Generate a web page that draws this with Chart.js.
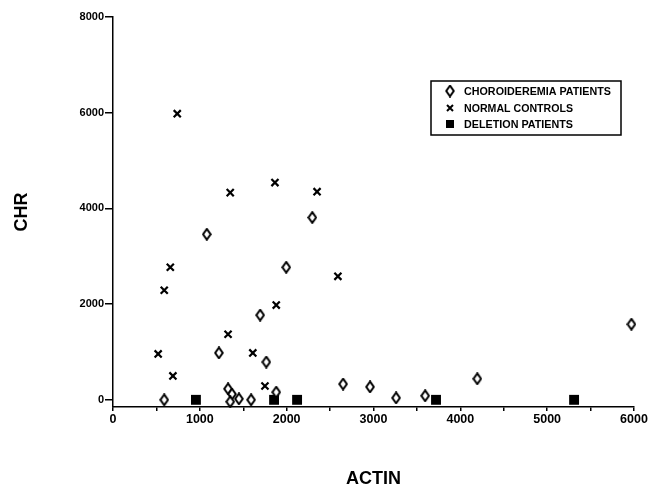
<!DOCTYPE html>
<html>
<head>
<meta charset="utf-8">
<script src="https://cdn.jsdelivr.net/npm/chart.js@4/dist/chart.umd.min.js"></script>
<style>
  html, body { margin: 0; padding: 0; background: #fff; }
  #chart { display: block; }
</style>
</head>
<body>
<canvas id="chart" width="649" height="488"></canvas>
<script>
// values (ACTIN on x, CHR on y)
const choroActin = [590, 1080, 1220, 1325, 1370, 1350, 1450, 1590, 1695, 1765, 1880, 1995, 2295, 2650, 2960, 3260, 3595, 4195, 5970];
const choroChr   = [0, 3460, 980, 230, 120, -40, 20, 0, 1770, 790, 160, 2770, 3810, 330, 270, 40, 85, 440, 1580];

const normalActin = [740, 520, 590, 660, 690, 1325, 1350, 1865, 2350, 1610, 1880, 1750, 2590];
const normalChr   = [5980, 960, 2290, 2770, 500, 1370, 4330, 4540, 4350, 980, 1980, 290, 2580];

const deletionActin = [955, 1855, 2120, 3720, 5310];
const deletionChr   = [0, 0, 0, 0, 0];

const xTicks = [0, 500, 1000, 1500, 2000, 2500, 3000, 3500, 4000, 4500, 5000, 5500, 6000];
const yTicks = [0, 2000, 4000, 6000, 8000];

const seriesNames = ['CHOROIDEREMIA PATIENTS', 'NORMAL CONTROLS', 'DELETION PATIENTS'];

const toPoints = (xs, ys) => xs.map((x, i) => ({ x: x, y: ys[i] }));

// tall hollow diamond used as the marker for the patients series
function makeDiamond() {
    const c = document.createElement('canvas');
    c.width = 10;
    c.height = 13;
    const g = c.getContext('2d');
    g.beginPath();
    g.moveTo(5, 1.2);
    g.lineTo(8.8, 6.5);
    g.lineTo(5, 11.8);
    g.lineTo(1.2, 6.5);
    g.closePath();
    g.fillStyle = '#fff';
    g.fill();
    g.lineWidth = 2;
    g.strokeStyle = '#000';
    g.stroke();
    return c;
}
const diamond = makeDiamond();

const boxLegend = {
    id: 'boxLegend',
    afterDraw(chart) {
        const ctx = chart.ctx;
        const left = 431, top = 81, w = 190, h = 54;
        ctx.save();
        ctx.lineWidth = 1.5;
        ctx.strokeStyle = '#000';
        ctx.strokeRect(left, top, w, h);
        ctx.fillStyle = '#000';
        ctx.font = 'bold 11px "Liberation Sans", Arial, sans-serif';
        ctx.textBaseline = 'middle';
        const rows = [91, 108, 124];
        const widths = [147, 109, 109];
        // markers
        ctx.drawImage(diamond, 450 - diamond.width / 2, rows[0] - diamond.height / 2);
        ctx.lineWidth = 2;
        ctx.beginPath();
        ctx.moveTo(447, rows[1] - 3); ctx.lineTo(453, rows[1] + 3);
        ctx.moveTo(453, rows[1] - 3); ctx.lineTo(447, rows[1] + 3);
        ctx.stroke();
        ctx.fillRect(446, rows[2] - 4, 8, 8);
        seriesNames.forEach((name, i) => {
            ctx.fillText(name, 464, rows[i] + 1, widths[i]);
        });
        ctx.restore();
    }
};

const yTickFont = { family: '"Liberation Sans", Arial, sans-serif', size: 11, weight: 'bold' };
const xTickFont = { family: '"Liberation Sans", Arial, sans-serif', size: 12.5, weight: 'bold' };
const titleFont = { family: '"Liberation Sans", Arial, sans-serif', size: 18, weight: 'bold', lineHeight: 1 };

new Chart(document.getElementById('chart'), {
    type: 'scatter',
    data: {
        datasets: [
            {
                label: seriesNames[0],
                data: toPoints(choroActin, choroChr),
                pointStyle: diamond,
                clip: false
            },
            {
                label: seriesNames[1],
                data: toPoints(normalActin, normalChr),
                pointStyle: 'crossRot',
                pointRadius: 5,
                pointBorderWidth: 2.2,
                borderColor: '#000',
                pointBorderColor: '#000',
                clip: false
            },
            {
                label: seriesNames[2],
                data: toPoints(deletionActin, deletionChr),
                pointStyle: 'rect',
                pointRadius: 7,
                pointBorderWidth: 0,
                backgroundColor: '#000',
                pointBackgroundColor: '#000',
                clip: false
            }
        ]
    },
    options: {
        responsive: false,
        animation: false,
        layout: { padding: { top: 17, right: 15, left: 0, bottom: 0 } },
        plugins: {
            legend: { display: false },
            tooltip: { enabled: false }
        },
        scales: {
            x: {
                type: 'linear',
                min: 0,
                max: 6000,
                afterBuildTicks: (scale) => { scale.ticks = xTicks.map(v => ({ value: v })); },
                afterFit: (scale) => { scale.height = 81; },
                ticks: {
                    autoSkip: false,
                    maxRotation: 0,
                    padding: 1,
                    color: '#000',
                    font: xTickFont,
                    callback: (v) => (v % 1000 === 0 ? String(v) : '')
                },
                grid: { drawOnChartArea: false, drawTicks: true, tickLength: 4, color: '#000', lineWidth: 1.5 },
                border: { display: true, color: '#000', width: 1.5 },
                title: { display: true, text: 'ACTIN', color: '#000', font: titleFont, padding: 0 }
            },
            y: {
                type: 'linear',
                min: -150,
                max: 8000,
                afterBuildTicks: (scale) => { scale.ticks = yTicks.map(v => ({ value: v })); },
                afterFit: (scale) => { scale.width = 113; },
                ticks: {
                    autoSkip: false,
                    padding: 1,
                    color: '#000',
                    font: yTickFont,
                    callback: (v) => String(v)
                },
                grid: { drawOnChartArea: false, drawTicks: true, tickLength: 8, color: '#000', lineWidth: 1.5 },
                border: { display: true, color: '#000', width: 1.5 },
                title: { display: true, text: 'CHR', color: '#000', font: titleFont, padding: { top: 13, bottom: 0 } }
            }
        }
    },
    plugins: [boxLegend]
});
</script>
</body>
</html>
